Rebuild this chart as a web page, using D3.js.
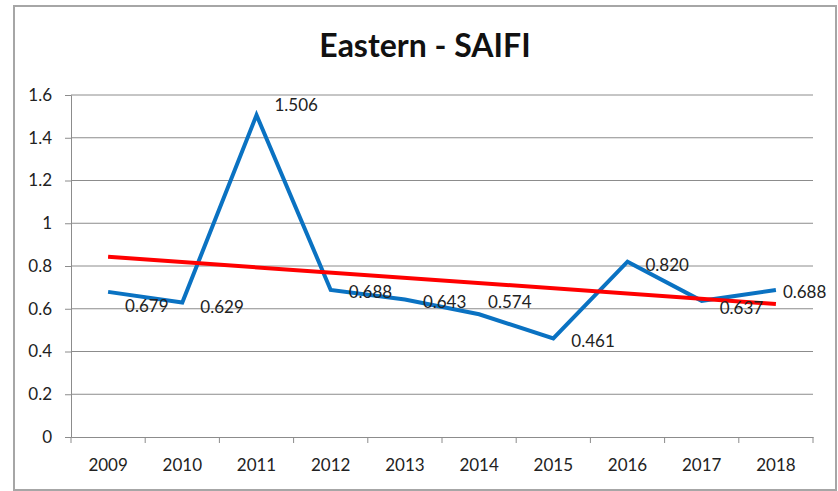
<!DOCTYPE html>
<html>
<head>
<meta charset="utf-8">
<script src="https://cdn.jsdelivr.net/npm/d3@7"></script>
<style>
  body { margin: 0; background: #fff; }
  text { font-family: Lato, "Open Sans", sans-serif; fill: #222; }
</style>
</head>
<body>
<div id="chart"></div>
<script>
// chart data
const years = ["2009", "2010", "2011", "2012", "2013", "2014", "2015", "2016", "2017", "2018"];
const saifi = [0.679, 0.629, 1.506, 0.688, 0.643, 0.574, 0.461, 0.820, 0.637, 0.688];
const yTicks = [0, 0.2, 0.4, 0.6, 0.8, 1, 1.2, 1.4, 1.6];

// data label nudges (px, from the point)
const labelDx = [17, 18, 18, 18, 18, 9, 18, 18, 18, 7];
const labelDy = [14, 4, -10, 2, 2, -12, 3, 3, 7, 2];

const width = 838, height = 491;
const margin = {left: 71, right: 25, top: 95, bottom: 54};

const svg = d3.select("#chart")
              .append("svg")
              .attr("width", width)
              .attr("height", height);

// chart border
svg.append("rect")
    .attr("x", 14)
    .attr("y", 6)
    .attr("width", 822)
    .attr("height", 484)
    .attr("fill", "#fff")
    .attr("stroke", "#a6a6a6")
    .attr("stroke-width", 2);

svg.append("text")
    .attr("x", 425)
    .attr("y", 57)
    .attr("text-anchor", "middle")
    .style("font-size", "32px")
    .style("font-weight", "bold")
    .style("fill", "#111")
    .text("Eastern - SAIFI");

let x = d3.scaleBand()
          .domain(years)
          .range([margin.left, width - margin.right]);
let y = d3.scaleLinear()
          .domain([0, 1.6])
          .range([height - margin.bottom, margin.top]);

// gridlines
svg.append("g")
    .selectAll("line")
    .data(yTicks.slice(1))
    .enter()
    .append("line")
    .attr("x1", margin.left)
    .attr("x2", width - margin.right)
    .attr("y1", d => y(d))
    .attr("y2", d => y(d))
    .attr("stroke", "#8c8c8c")
    .attr("stroke-width", 1);

// y axis
let yAxis = svg.append("g")
               .attr("transform", "translate(" + margin.left + ",0)")
               .call(d3.axisLeft(y).tickValues(yTicks).tickSize(6).tickPadding(13).tickFormat(d3.format("")));

// x axis with ticks between categories
let xAxis = svg.append("g")
               .attr("transform", "translate(0," + y(0) + ")")
               .call(d3.axisBottom(x).tickSize(0).tickPadding(22));
xAxis.selectAll(".xb")
    .data(years.concat(["end"]))
    .enter()
    .append("line")
    .attr("class", "xb")
    .attr("x1", (d, i) => margin.left + i * x.step())
    .attr("x2", (d, i) => margin.left + i * x.step())
    .attr("y1", 0)
    .attr("y2", 6)
    .attr("stroke", "#8c8c8c");

svg.selectAll(".domain").attr("stroke", "#8c8c8c");
svg.selectAll(".tick line").attr("stroke", "#8c8c8c");
svg.selectAll(".tick text")
    .style("font-size", "17px")
    .style("font-family", "Lato, sans-serif")
    .attr("fill", "#222");

const cx = d => x(d) + x.bandwidth() / 2;

// data line
const line = d3.line()
               .x((d, i) => cx(years[i]))
               .y(d => y(d));
svg.append("path")
    .datum(saifi)
    .attr("d", line)
    .attr("fill", "none")
    .attr("stroke", "#0a72c2")
    .attr("stroke-width", 4)
    .attr("stroke-linejoin", "miter");

// linear trendline (least squares)
const n = saifi.length;
const mx = d3.mean(saifi, (d, i) => i + 1);
const my = d3.mean(saifi);
const slope = d3.sum(saifi, (d, i) => (i + 1 - mx) * (d - my)) / d3.sum(saifi, (d, i) => (i + 1 - mx) ** 2);
const trend = [0, n - 1].map(i => my + slope * (i + 1 - mx));
svg.append("line")
    .attr("x1", cx(years[0]))
    .attr("x2", cx(years[n - 1]))
    .attr("y1", y(trend[0]))
    .attr("y2", y(trend[1]))
    .attr("stroke", "#ff0000")
    .attr("stroke-width", 4);

// data labels
svg.append("g")
    .selectAll("text")
    .data(saifi)
    .enter()
    .append("text")
    .attr("x", (d, i) => cx(years[i]) + labelDx[i])
    .attr("y", (d, i) => y(d) + labelDy[i])
    .attr("dy", "0.35em")
    .style("font-size", "17px")
    .text(d => d3.format(".3f")(d));
</script>
</body>
</html>
